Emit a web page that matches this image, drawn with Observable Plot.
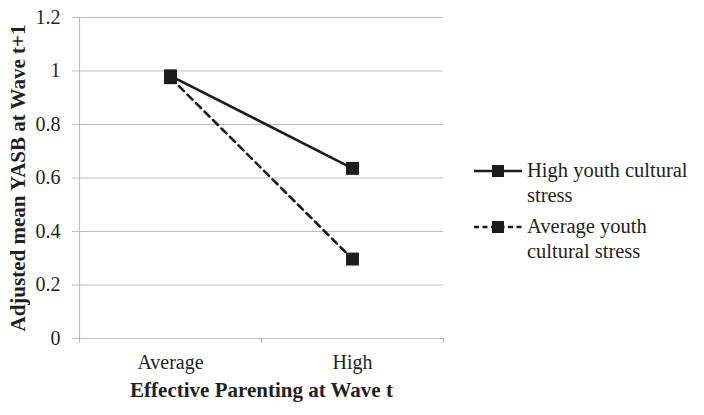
<!DOCTYPE html>
<html>
<head>
<meta charset="utf-8">
<script src="https://cdn.jsdelivr.net/npm/d3@7"></script>
<script src="https://cdn.jsdelivr.net/npm/@observablehq/plot@0.6"></script>
<style>
  html, body { margin: 0; padding: 0; background: #fff; }
  #wrap { position: relative; width: 704px; height: 415px; font-family: 'Liberation Serif', 'Times New Roman', serif; color: #231f20; }
  #wrap svg text { font-family: 'Liberation Serif', 'Times New Roman', serif; }
  g[aria-label="y-axis label"] text, g[aria-label="x-axis label"] text { font-weight: bold; font-size: 21px; }
  .entry { position: absolute; left: 474px; display: flex; align-items: flex-start; font-family: 'Liberation Serif', 'Times New Roman', serif; font-size: 20.5px; line-height: 25px; }
  .entry svg { margin-top: 6px; margin-right: 5px; flex: none; }
</style>
</head>
<body>
<div id="wrap"></div>
<script>
const categories = ["Average", "High"];
const seriesNames = ["High youth cultural stress", "Average youth cultural stress"];
const highStressValues = [0.982, 0.636];
const averageStressValues = [0.975, 0.297];
const yTicks = [0, 0.2, 0.4, 0.6, 0.8, 1, 1.2];
const yTickLabels = ["0", "0.2", "0.4", "0.6", "0.8", "1", "1.2"];
const legendLines = [["High youth cultural", "stress"], ["Average youth", "cultural stress"]];
const xTitle = "Effective Parenting at Wave t";
const yTitle = "Adjusted mean YASB at Wave t+1";

const data = categories.flatMap((c, i) => [
  {cat: c, series: seriesNames[0], v: highStressValues[i]},
  {cat: c, series: seriesNames[1], v: averageStressValues[i]}
]);

const W = 704, H = 415, ML = 79, MR = 261, MT = 17, MB = 77;
const band = (W - ML - MR) / categories.length;
const ink = "#1e1b1c";
const grid = "#bdbdbd";

const chart = Plot.plot({
  width: W, height: H,
  marginLeft: ML, marginRight: MR, marginTop: MT, marginBottom: MB,
  style: {fontFamily: "'Liberation Serif', 'Times New Roman', serif", fontSize: "20px", color: "#231f20", background: "white"},
  x: {type: "band", domain: categories, padding: 0},
  y: {domain: [0, 1.2]},
  marks: [
    Plot.ruleY(yTicks, {stroke: grid, strokeWidth: 1.2}),
    Plot.ruleX([categories[0]], {dx: -band / 2, stroke: grid, strokeWidth: 1.2, y1: -0.018, y2: 1.2}),
    Plot.ruleX(categories, {dx: band / 2, stroke: grid, strokeWidth: 1.2, y1: -0.018, y2: 0}),
    Plot.axisY({ticks: yTicks, tickFormat: (d) => yTickLabels[yTicks.indexOf(d)], tickSize: 7, tickPadding: 12, stroke: grid, fill: "#231f20",
      label: yTitle, labelAnchor: "center", labelOffset: 69, labelArrow: false}),
    Plot.axisX({tickSize: 0, tickPadding: 16, fill: "#231f20",
      label: xTitle, labelAnchor: "center", labelOffset: 58, labelArrow: false}),
    Plot.line(data.filter(d => d.series === seriesNames[0]), {x: "cat", y: "v", stroke: ink, strokeWidth: 2.6}),
    Plot.line(data.filter(d => d.series === seriesNames[1]), {x: "cat", y: "v", stroke: ink, strokeWidth: 2.6, strokeDasharray: "7,5"}),
    Plot.dot(data, {x: "cat", y: "v", symbol: "square", r: 7.3, fill: ink, stroke: "none"})
  ]
});

const wrap = document.getElementById("wrap");
wrap.appendChild(chart);

const tops = [158, 214];
legendLines.forEach((lines, i) => {
  const e = document.createElement("div");
  e.className = "entry";
  e.style.top = tops[i] + "px";
  const dash = i === 1 ? 'stroke-dasharray="5,3.5"' : "";
  e.innerHTML = `<svg width="48" height="14"><line x1="0" x2="48" y1="7" y2="7" stroke="${ink}" stroke-width="2.6" ${dash}/><rect x="18" y="1" width="12" height="12" fill="${ink}"/></svg><div>${lines.join("<br>")}</div>`;
  wrap.appendChild(e);
});
</script>
</body>
</html>
